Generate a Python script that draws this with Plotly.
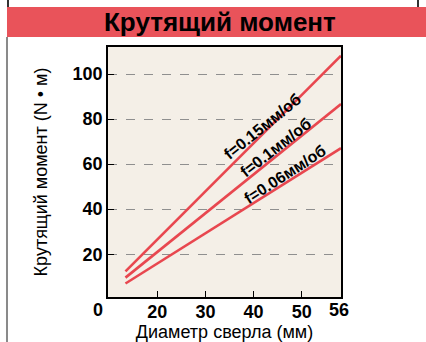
import plotly.graph_objects as go

# Drill diameter at the start and end of each curve (mm, axis units)
diameter = [13.4, 58.15]

# Torque (N·m) for each feed rate
torque_f015 = [12.4, 108.1]
torque_f010 = [9.6, 86.7]
torque_f006 = [7.0, 67.1]

feed_labels = ["f=0.15мм/об", "f=0.1мм/об", "f=0.06мм/об"]

x_ticks = [20, 30, 40, 50]
y_ticks = [20, 40, 60, 80, 100]

LINE_RED = "#e8474f"
BAR_RED = "#e9535a"
FONT = "Liberation Sans, Arial, sans-serif"
NARROW = "Liberation Sans Narrow, Arial Narrow, Liberation Sans, sans-serif"

fig = go.Figure()
for ys in (torque_f015, torque_f010, torque_f006):
    fig.add_trace(go.Scatter(
        x=diameter, y=ys, mode="lines",
        line=dict(color=LINE_RED, width=2.6),
        showlegend=False, hoverinfo="skip",
    ))

# Feed-rate labels laid along each line
label_pos = [(41.9, 76.5, -39), (44.6, 67.6, -38), (46.5, 55.6, -33)]
for text, (lx, ly, ang) in zip(feed_labels, label_pos):
    fig.add_annotation(x=lx, y=ly, text=f"<b>{text}</b>", textangle=ang,
                       xanchor="center", yanchor="middle",
                       showarrow=False, font=dict(size=16, color="black", family=NARROW))

# Corner origin and end-of-axis labels
fig.add_annotation(xref="paper", yref="paper", x=-0.043, y=-0.052, text="<b>0</b>",
                   xanchor="center", yanchor="middle",
                   showarrow=False, font=dict(size=18, color="black", family=FONT))
fig.add_annotation(xref="paper", yref="paper", x=0.991, y=-0.052, text="<b>56</b>",
                   xanchor="center", yanchor="middle",
                   showarrow=False, font=dict(size=18, color="black", family=FONT))

# Title bar
fig.add_shape(type="rect", xref="paper", yref="paper", x0=-0.4335, x1=1.3648, y0=1.04, y1=1.16,
              fillcolor=BAR_RED, line=dict(width=0), layer="below")
fig.add_annotation(xref="paper", yref="paper", x=0.4807, y=1.10, text="<b>Крутящий момент</b>",
                   xanchor="center", yanchor="middle",
                   showarrow=False, font=dict(size=26, color="black", family=FONT))

# Frame lines around the panel
fig.add_shape(type="line", xref="paper", yref="paper", x0=-0.4335, x1=-0.4335, y0=1.04, y1=-0.2,
              line=dict(color="#8a8a8a", width=2))
for xp in (-0.4292, 1.3305):
    fig.add_shape(type="line", xref="paper", yref="paper", x0=xp, x1=xp, y0=1.16, y1=1.2,
                  line=dict(color="#333333", width=2))

axis_common = dict(
    showline=True, linecolor="black", linewidth=1.5, mirror=True,
    ticks="inside", tickcolor="black", ticklen=6, tickwidth=1.3,
    tickfont=dict(size=18, color="black", family=FONT),
    zeroline=False, automargin=False,
)

fig.update_xaxes(
    range=[9.77, 58.15], tickvals=x_ticks,
    ticktext=[f"<b>{v}</b>" for v in x_ticks],
    showgrid=False, ticklabelstandoff=-2,
    title=dict(text="Диаметр сверла (мм)", font=dict(size=18, color="black", family=FONT), standoff=12),
    **axis_common,
)
fig.update_yaxes(
    range=[1.0, 112.0], tickvals=y_ticks,
    ticktext=[f"<b>{v}</b>" for v in y_ticks],
    showgrid=True, gridcolor="#8f8f8f", griddash="dash", gridwidth=1,
    title=dict(text="Крутящий момент (N • м)", font=dict(size=18, color="black", family=FONT), standoff=20),
    **axis_common,
)

fig.update_layout(
    width=426, height=342,
    margin=dict(l=108, r=85, t=47, b=45),
    paper_bgcolor="white", plot_bgcolor="#f4efe7",
    font=dict(family=FONT),
)

fig.write_html("out.html")
